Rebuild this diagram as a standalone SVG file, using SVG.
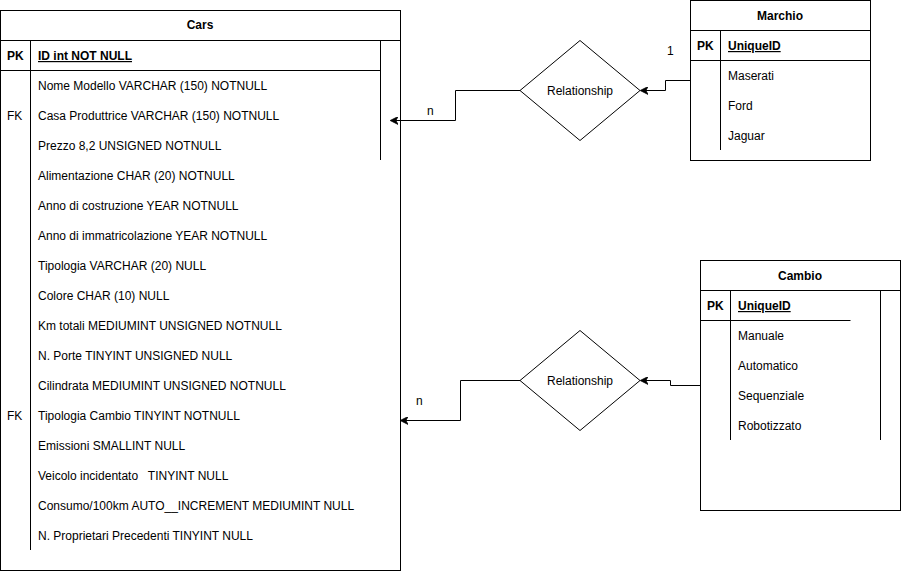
<svg xmlns="http://www.w3.org/2000/svg" width="901" height="571" viewBox="0 0 901 571">
<style>
.box{fill:#fff;stroke:#000;stroke-width:1}
.ln{fill:none;stroke:#000;stroke-width:1}
text{font-family:"Liberation Sans",Arial,sans-serif;font-size:12px;fill:#000}
.b{font-weight:bold}
.u{text-decoration:underline}
.c{text-anchor:middle}
</style>
<defs>
<marker id="arr" viewBox="0 0 10 10" refX="9" refY="5" markerWidth="8" markerHeight="8" markerUnits="userSpaceOnUse" orient="auto">
<path d="M0,0 L10,5 L0,10 L3,5 Z" fill="#000" stroke="#000"/>
</marker>
</defs>
<rect width="901" height="571" fill="#fff"/>
<g id="cars">
<rect class="box" x="0.5" y="10.5" width="400" height="560"/>
<line class="ln" x1="0.5" y1="40.5" x2="400.5" y2="40.5"/>
<line class="ln" x1="0.5" y1="70.5" x2="380.5" y2="70.5"/>
<line class="ln" x1="30.5" y1="40.5" x2="30.5" y2="550"/>
<line class="ln" x1="380.5" y1="40.5" x2="380.5" y2="160"/>
<text class="b c" x="200" y="29">Cars</text>
<text class="b" x="7" y="60">PK</text>
<text class="b u" x="38" y="60">ID int NOT NULL</text>
<text x="38" y="90">Nome Modello VARCHAR (150) NOTNULL</text>
<text x="7" y="120">FK</text>
<text x="38" y="120">Casa Produttrice VARCHAR (150) NOTNULL</text>
<text x="38" y="150">Prezzo 8,2 UNSIGNED NOTNULL</text>
<text x="38" y="180">Alimentazione CHAR (20) NOTNULL</text>
<text x="38" y="210">Anno di costruzione YEAR NOTNULL</text>
<text x="38" y="240">Anno di immatricolazione YEAR NOTNULL</text>
<text x="38" y="270">Tipologia VARCHAR (20) NULL</text>
<text x="38" y="300">Colore CHAR (10) NULL</text>
<text x="38" y="330">Km totali MEDIUMINT UNSIGNED NOTNULL</text>
<text x="38" y="360">N. Porte TINYINT UNSIGNED NULL</text>
<text x="38" y="390">Cilindrata MEDIUMINT UNSIGNED NOTNULL</text>
<text x="7" y="420">FK</text>
<text x="38" y="420">Tipologia Cambio TINYINT NOTNULL</text>
<text x="38" y="450">Emissioni SMALLINT NULL</text>
<text x="38" y="480" xml:space="preserve">Veicolo incidentato   TINYINT NULL</text>
<text x="38" y="510">Consumo/100km AUTO__INCREMENT MEDIUMINT NULL</text>
<text x="38" y="540">N. Proprietari Precedenti TINYINT NULL</text>
</g>
<g id="marchio">
<rect class="box" x="690.5" y="0.5" width="180" height="160"/>
<line class="ln" x1="690.5" y1="30.5" x2="870.5" y2="30.5"/>
<line class="ln" x1="690.5" y1="60.5" x2="870.5" y2="60.5"/>
<line class="ln" x1="720.5" y1="30.5" x2="720.5" y2="150"/>
<text class="b c" x="780" y="20">Marchio</text>
<text class="b" x="697" y="50">PK</text>
<text class="b u" x="728" y="50">UniqueID</text>
<text x="728" y="80">Maserati</text>
<text x="728" y="110">Ford</text>
<text x="728" y="140">Jaguar</text>
</g>
<g id="cambio">
<rect class="box" x="700.5" y="260.5" width="200" height="250"/>
<line class="ln" x1="700.5" y1="290.5" x2="900.5" y2="290.5"/>
<line class="ln" x1="700.5" y1="320.5" x2="850.5" y2="320.5"/>
<line class="ln" x1="730.5" y1="290.5" x2="730.5" y2="440"/>
<line class="ln" x1="880.5" y1="290.5" x2="880.5" y2="440"/>
<text class="b c" x="800" y="280">Cambio</text>
<text class="b" x="707" y="310">PK</text>
<text class="b u" x="738" y="310">UniqueID</text>
<text x="738" y="340">Manuale</text>
<text x="738" y="370">Automatico</text>
<text x="738" y="400">Sequenziale</text>
<text x="738" y="430">Robotizzato</text>
</g>
<g id="rel1">
<polygon class="box" points="580,40.5 640,90.5 580,140.5 520,90.5"/>
<text class="c" x="580" y="95">Relationship</text>
</g>
<g id="rel2">
<polygon class="box" points="580,330.5 640,380.5 580,430.5 520,380.5"/>
<text class="c" x="580" y="385">Relationship</text>
</g>
<g id="connectors">
<polyline class="ln" points="690,80.5 665.5,80.5 665.5,90.5 641,90.5" marker-end="url(#arr)"/>
<polyline class="ln" points="520,90.5 455.5,90.5 455.5,120.5 391,120.5" marker-end="url(#arr)"/>
<polyline class="ln" points="700,385.5 670.5,385.5 670.5,380.5 641,380.5" marker-end="url(#arr)"/>
<polyline class="ln" points="520,380.5 460.5,380.5 460.5,420.5 401,420.5" marker-end="url(#arr)"/>
<text x="667" y="55">1</text>
<text x="427" y="115">n</text>
<text x="416" y="405">n</text>
</g>
</svg>
